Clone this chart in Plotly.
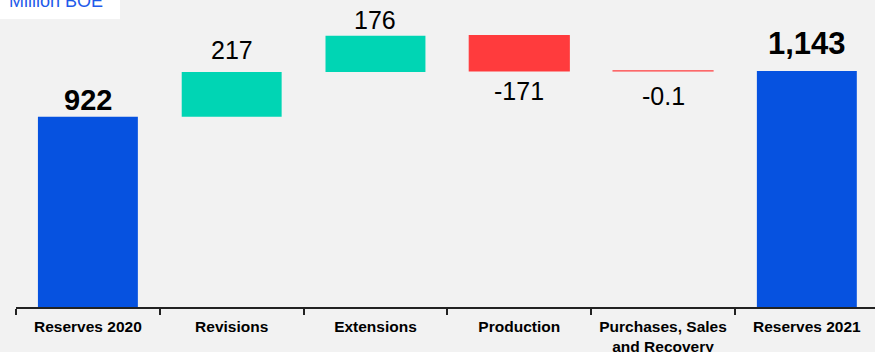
import plotly.graph_objects as go

# ---- data ----
categories = ["Reserves 2020", "Revisions", "Extensions", "Production",
              "Purchases, Sales<br>and Recovery", "Reserves 2021"]
values = [922, 217, 176, -171, -0.1, 1143]
measures = ["absolute", "relative", "relative", "relative", "relative", "total"]
labels = ["922", "217", "176", "-171", "-0.1", "1,143"]
unit_label = "Million BOE"

# ---- style ----
BLUE = "#0652e0"
TEAL = "#00d5b4"
RED = "#ff3b3d"
BG = "#f2f2f2"
FONT = "Liberation Sans, Arial, sans-serif"
label_gap_px = [17, 22, 16, 20, 25, 27]   # centre of label to bar edge
label_size = [29, 25, 25, 25, 25, 31]
label_bold = [True, False, False, False, False, True]

fig = go.Figure(go.Waterfall(
    x=categories, y=values, measure=measures,
    increasing=dict(marker=dict(color=TEAL, line=dict(width=0))),
    decreasing=dict(marker=dict(color=RED, line=dict(color=RED, width=1.2))),
    totals=dict(marker=dict(color=BLUE, line=dict(width=0))),
    connector=dict(visible=False),
    hoverinfo="skip",
))

# label annotations anchored to bar edges
run = 0.0
for i, (m, v) in enumerate(zip(measures, values)):
    if m == "absolute":
        start, run = 0.0, v
    elif m == "total":
        start = 0.0
    else:
        start, run = run, run + v
    end = run
    up = (m != "relative") or v >= 0
    edge = max(start, end) if up else min(start, end)
    txt = f"<b>{labels[i]}</b>" if label_bold[i] else labels[i]
    fig.add_annotation(x=categories[i], y=edge, text=txt, showarrow=False,
                       yanchor="middle", yshift=label_gap_px[i] if up else -label_gap_px[i],
                       font=dict(family=FONT, size=label_size[i], color="#000000"))

# unit box
W, H = 859, 307
fig.add_shape(type="rect", xref="paper", yref="paper",
              x0=-16 / W, x1=(120 - 16) / W, y0=1 - 19 / H, y1=1.1,
              fillcolor="#ffffff", line=dict(width=0), layer="above")
fig.add_annotation(xref="paper", yref="paper", x=(7 - 16) / W, y=1 - 1 / H,
                   xanchor="left", yanchor="middle", showarrow=False,
                   text=unit_label, font=dict(family=FONT, size=18, color="#1f5bea"))

fig.update_layout(
    width=875, height=352,
    margin=dict(l=16, r=0, t=0, b=45, autoexpand=False),
    paper_bgcolor=BG, plot_bgcolor=BG,
    showlegend=False,
    waterfallgap=0.305,
    font=dict(family=FONT),
)
fig.update_xaxes(
    type="category", range=[-0.5, 5.474], automargin=False,
    tickson="boundaries", ticks="outside", ticklen=6, tickwidth=1.5, tickcolor="#222222",
    showline=True, linecolor="#222222", linewidth=2,
    showgrid=False, zeroline=False, ticklabelstandoff=4,
    tickfont=dict(family=FONT, size=15.5, color="#000000", weight="bold"),
)
fig.update_yaxes(range=[0, 1488], visible=False, showgrid=False, zeroline=False)

fig.write_html("out.html")
